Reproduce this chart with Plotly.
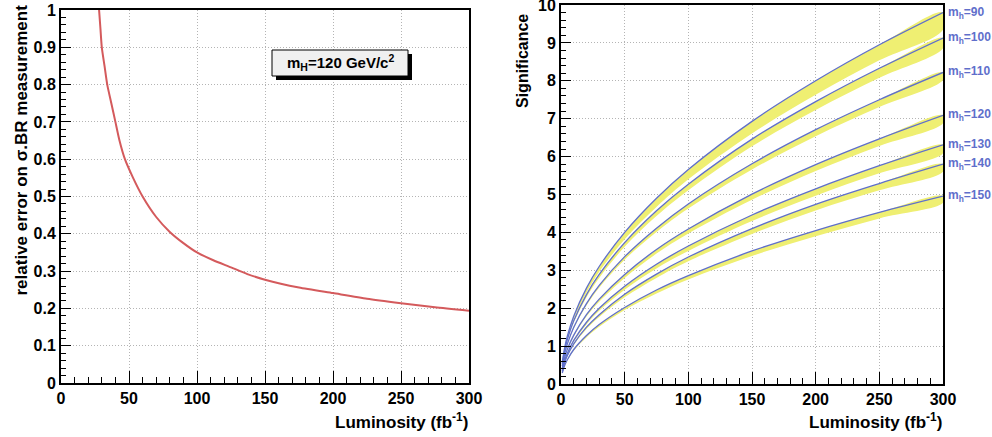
import plotly.graph_objects as go

W, H = 992, 437

# Left panel: relative error vs luminosity
lumi_err = [28, 29, 30, 32, 34, 37, 40, 43, 47, 53, 60, 70, 80, 90, 100, 112, 125, 137, 150, 175, 200, 225, 250, 275, 300]
rel_err = [1.0, 0.95, 0.9, 0.85, 0.8, 0.75, 0.7, 0.65, 0.6, 0.55, 0.5, 0.445, 0.405, 0.375, 0.35, 0.329, 0.31, 0.292,
           0.277, 0.256, 0.241, 0.226, 0.214, 0.203, 0.194]

# Right panel: significance bands
lumi_sig = [1, 3, 5, 10, 20, 30, 50, 75, 100, 150, 200, 250, 300]
masses = ["90", "100", "110", "120", "130", "140", "150"]
sig_upper = {
    "90":  [0.57, 0.98, 1.27, 1.79, 2.53, 3.10, 4.00, 4.90, 5.66, 6.93, 8.00, 8.95, 9.80],
    "100": [0.53, 0.91, 1.18, 1.67, 2.36, 2.89, 3.73, 4.57, 5.27, 6.46, 7.45, 8.33, 9.13],
    "110": [0.47, 0.82, 1.06, 1.50, 2.12, 2.60, 3.36, 4.11, 4.75, 5.81, 6.71, 7.50, 8.22],
    "120": [0.41, 0.71, 0.92, 1.29, 1.83, 2.24, 2.89, 3.55, 4.09, 5.01, 5.79, 6.47, 7.09],
    "130": [0.36, 0.63, 0.81, 1.15, 1.63, 2.00, 2.58, 3.16, 3.64, 4.46, 5.15, 5.76, 6.31],
    "140": [0.33, 0.58, 0.75, 1.06, 1.50, 1.83, 2.37, 2.90, 3.35, 4.10, 4.74, 5.29, 5.80],
    "150": [0.29, 0.50, 0.64, 0.91, 1.28, 1.57, 2.02, 2.48, 2.86, 3.51, 4.05, 4.53, 4.96],
}
sig_lower = {
    "90":  [0.54, 0.93, 1.21, 1.71, 2.41, 2.96, 3.82, 4.67, 5.40, 6.61, 7.63, 8.54, 9.35],
    "100": [0.51, 0.88, 1.14, 1.62, 2.29, 2.80, 3.62, 4.43, 5.11, 6.27, 7.23, 8.08, 8.86],
    "110": [0.46, 0.80, 1.03, 1.46, 2.07, 2.54, 3.28, 4.01, 4.63, 5.66, 6.54, 7.31, 8.02],
    "120": [0.40, 0.69, 0.89, 1.25, 1.78, 2.17, 2.80, 3.44, 3.97, 4.86, 5.62, 6.28, 6.88],
    "130": [0.35, 0.61, 0.78, 1.11, 1.57, 1.93, 2.49, 3.05, 3.51, 4.30, 4.97, 5.56, 6.09],
    "140": [0.32, 0.56, 0.72, 1.02, 1.45, 1.77, 2.29, 2.80, 3.24, 3.96, 4.58, 5.11, 5.60],
    "150": [0.28, 0.48, 0.62, 0.88, 1.23, 1.51, 1.95, 2.39, 2.76, 3.38, 3.90, 4.37, 4.78],
}

RED = "#d45a5c"
BLUE = "#5f6fcb"
YELLOW = "#efef72"
FONT = "Liberation Sans"

def px(x):
    return x / W

def py(y):
    return 1 - y / H

fig = go.Figure()

fig.add_trace(go.Scatter(x=lumi_err, y=rel_err, mode="lines",
                         line=dict(color=RED, width=2, shape="spline", smoothing=0.6),
                         xaxis="x", yaxis="y", showlegend=False, hoverinfo="skip"))

for m in masses:
    up = sig_upper[m]
    lo = sig_lower[m]
    fig.add_trace(go.Scatter(x=lumi_sig + lumi_sig[::-1], y=up + lo[::-1], mode="lines",
                             fill="toself", fillcolor=YELLOW, line=dict(width=0, shape="spline"),
                             xaxis="x2", yaxis="y2", showlegend=False, hoverinfo="skip"))
for m in masses:
    fig.add_trace(go.Scatter(x=lumi_sig, y=sig_upper[m], mode="lines",
                             line=dict(color=BLUE, width=1.3, shape="spline"),
                             xaxis="x2", yaxis="y2", showlegend=False, hoverinfo="skip"))

tickfont = dict(family=FONT, size=16, color="black", weight=700)
common_axis = dict(showline=True, linecolor="black", linewidth=2, mirror=True,
                   ticks="inside", tickcolor="black", tickwidth=1,
                   showgrid=True, gridcolor="#b4b4b4", griddash="1px,2px", gridwidth=1,
                   zeroline=False, tickfont=tickfont, ticklabeloverflow="allow")

fig.update_layout(
    width=W, height=H, margin=dict(l=0, r=0, t=0, b=0, autoexpand=False),
    paper_bgcolor="white", plot_bgcolor="white",
    xaxis=dict(domain=[px(61), px(469)], range=[0, 300], dtick=50, ticklen=12,
               minor=dict(ticks="inside", dtick=10, ticklen=6, tickcolor="black", showgrid=False),
               anchor="y", **common_axis),
    yaxis=dict(domain=[py(383), py(10)], range=[0, 1], dtick=0.1, ticklen=10,
               minor=dict(ticks="inside", dtick=0.02, ticklen=5, tickcolor="black", showgrid=False),
               anchor="x", **common_axis),
    xaxis2=dict(domain=[px(561), px(943)], range=[0, 300], dtick=50, ticklen=12,
                minor=dict(ticks="inside", dtick=10, ticklen=6, tickcolor="black", showgrid=False),
                anchor="y2", **common_axis),
    yaxis2=dict(domain=[py(384), py(5)], range=[0, 10], dtick=1, ticklen=10,
                minor=dict(ticks="inside", dtick=0.2, ticklen=5, tickcolor="black", showgrid=False),
                anchor="x2", **common_axis),
)

annots = []
# axis titles
annots.append(dict(text="<b>relative error on σ.BR measurement</b>", textangle=-90,
                   x=px(21), y=py(3), xref="paper", yref="paper", xanchor="center", yanchor="top",
                   showarrow=False, font=dict(family=FONT, size=17, color="black")))
annots.append(dict(text="<b>Significance</b>", textangle=-90,
                   x=px(522), y=py(12), xref="paper", yref="paper", xanchor="center", yanchor="top",
                   showarrow=False, font=dict(family=FONT, size=16, color="black")))
annots.append(dict(text="<b>Luminosity (fb<sup>-1</sup>)</b>",
                   x=px(470), y=py(421), xref="paper", yref="paper", xanchor="right", yanchor="middle",
                   showarrow=False, font=dict(family=FONT, size=17, color="black")))
annots.append(dict(text="<b>Luminosity (fb<sup>-1</sup>)</b>",
                   x=px(944), y=py(421), xref="paper", yref="paper", xanchor="right", yanchor="middle",
                   showarrow=False, font=dict(family=FONT, size=17, color="black")))
# mH box text
annots.append(dict(text="<b>m<sub>H</sub>=120 GeV/c<sup>2</sup></b>",
                   x=px(340), y=py(63), xref="paper", yref="paper", xanchor="center", yanchor="middle",
                   showarrow=False, font=dict(family=FONT, size=15, color="black")))
# mass labels
for m in masses:
    annots.append(dict(text=f"<b>m<sub>h</sub>={m}</b>", x=px(946), y=sig_upper[m][-1],
                       xref="paper", yref="y2", xanchor="left", yanchor="middle",
                       showarrow=False, font=dict(family=FONT, size=12, color=BLUE)))
fig.update_layout(annotations=annots)

shapes = [
    dict(type="rect", xref="paper", yref="paper", x0=px(276), x1=px(412), y0=py(80), y1=py(54),
         fillcolor="black", line=dict(width=0), layer="above"),
    dict(type="rect", xref="paper", yref="paper", x0=px(272), x1=px(408), y0=py(76), y1=py(50),
         fillcolor="#f0f0f0", line=dict(color="black", width=1), layer="above"),
]
fig.update_layout(shapes=shapes)

fig.write_html("out.html", config={"displayModeBar": False},
               post_script="document.body.style.margin='0';")
